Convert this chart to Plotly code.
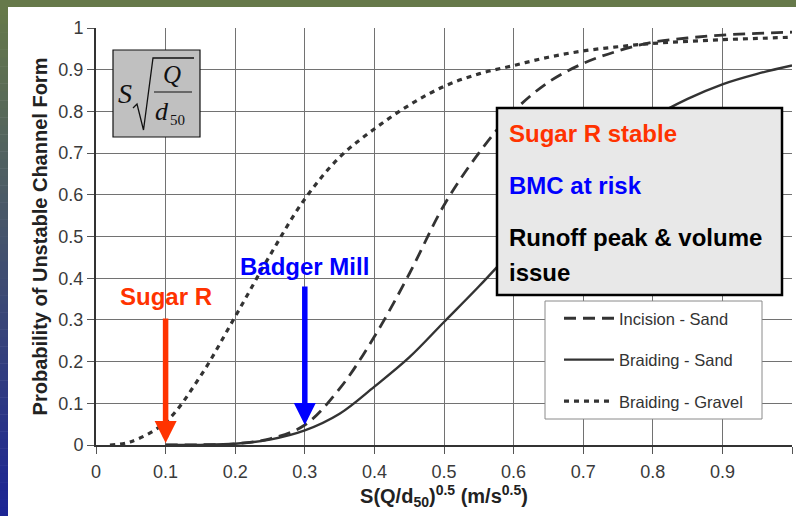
import plotly.graph_objects as go

# ---- data -------------------------------------------------------------
x_gravel = [0.02, 0.05, 0.1, 0.15, 0.2, 0.25, 0.3, 0.35, 0.4, 0.45, 0.5, 0.55,
            0.6, 0.65, 0.7, 0.75, 0.8, 0.85, 0.9, 0.95, 1.0]
p_braiding_gravel = [0.0, 0.008, 0.055, 0.165, 0.308, 0.455, 0.59, 0.69, 0.758,
                     0.815, 0.86, 0.89, 0.91, 0.93, 0.945, 0.955, 0.963, 0.968,
                     0.972, 0.975, 0.978]

x_sand = [0.1, 0.15, 0.2, 0.25, 0.3, 0.35, 0.4, 0.45, 0.5, 0.55, 0.6, 0.65,
          0.7, 0.75, 0.8, 0.85, 0.9, 0.95, 1.0]
p_incision_sand = [0.0, 0.0005, 0.003, 0.015, 0.048, 0.135, 0.26, 0.41, 0.575,
                   0.70, 0.80, 0.87, 0.915, 0.945, 0.966, 0.976, 0.983, 0.987, 0.99]
p_braiding_sand = [0.0, 0.0003, 0.003, 0.013, 0.035, 0.075, 0.14, 0.21, 0.295,
                   0.38, 0.47, 0.56, 0.645, 0.72, 0.785, 0.83, 0.865, 0.89, 0.91]

x_ticks = [0, 0.1, 0.2, 0.3, 0.4, 0.5, 0.6, 0.7, 0.8, 0.9, 1]
y_ticks = [0, 0.1, 0.2, 0.3, 0.4, 0.5, 0.6, 0.7, 0.8, 0.9, 1]
x_tick_labels = ["0", "0.1", "0.2", "0.3", "0.4", "0.5", "0.6", "0.7", "0.8", "0.9", "1"]
y_tick_labels = ["0", "0.1", "0.2", "0.3", "0.4", "0.5", "0.6", "0.7", "0.8", "0.9", "1"]

# streams marked on the chart: arrow tip on the curve, label above the arrow
site_names = ["Sugar R", "Badger Mill"]
site_x = [0.1, 0.3]
site_tip_y = [0.005, 0.048]
site_label_y = [0.355, 0.427]
site_colors = ["#ff3300", "#0000ff"]

note_lines = ["Sugar R stable", "BMC at risk", "Runoff peak & volume", "issue"]
note_colors = ["#ff3300", "#0000ff", "#000000", "#000000"]

# ---- geometry ----------------------------------------------------------
W, H = 796, 516
PL, PT, PW, PH = 96, 28, 696, 417


def fx(xp):
    """pixel column -> paper x"""
    return (xp - PL) / PW


def fy(yp):
    """pixel row -> paper y"""
    return (PT + PH - yp) / PH


SANS = "Liberation Sans, Arial, sans-serif"
SERIF = "Liberation Serif, Times New Roman, serif"
LINE = "#333333"

fig = go.Figure()

fig.add_trace(go.Scatter(
    x=x_sand, y=p_incision_sand, mode="lines", name="Incision - Sand",
    line=dict(color=LINE, width=2.8, dash="12px,7px", shape="spline", smoothing=1.0),
    legendgroup="a"))
fig.add_trace(go.Scatter(
    x=x_sand, y=p_braiding_sand, mode="lines", name="Braiding - Sand",
    line=dict(color=LINE, width=2.4, shape="spline", smoothing=1.0),
    legendgroup="b"))
fig.add_trace(go.Scatter(
    x=x_gravel, y=p_braiding_gravel, mode="lines", name="Braiding - Gravel",
    line=dict(color=LINE, width=3.2, dash="5px,5px", shape="spline", smoothing=1.0),
    legendgroup="c"))

shapes = []

# framing bands: green strip on top, green-to-blue strip on the left
shapes.append(dict(type="rect", xref="paper", yref="paper",
                   x0=fx(0), x1=fx(W), y0=fy(0), y1=fy(7),
                   fillcolor="#66794a", line=dict(width=0), layer="above"))
c_top = (102, 121, 74)
c_bot = (28, 37, 148)
n_strips = 60
for i in range(n_strips):
    t = i / (n_strips - 1)
    r, g, b = (round(c_top[k] + (c_bot[k] - c_top[k]) * t) for k in range(3))
    y0p = 7 + (H - 7) * i / n_strips
    y1p = 7 + (H - 7) * (i + 1) / n_strips
    shapes.append(dict(type="rect", xref="paper", yref="paper",
                       x0=fx(0), x1=fx(8), y0=fy(y1p + 0.5), y1=fy(y0p),
                       fillcolor=f"rgb({r},{g},{b})", line=dict(width=0),
                       layer="above"))

# formula box  S*sqrt(Q/d50)
shapes.append(dict(type="rect", xref="paper", yref="paper",
                   x0=fx(113), x1=fx(200), y0=fy(137), y1=fy(50),
                   fillcolor="#c0c0c0", line=dict(color="#111111", width=1.2),
                   layer="above"))
shapes.append(dict(type="path", xref="paper", yref="paper",
                   path=(f"M {fx(133)},{fy(108)} L {fx(137)},{fy(104)} "
                         f"L {fx(143.5)},{fy(130)} L {fx(153)},{fy(58)} "
                         f"L {fx(194)},{fy(58)}"),
                   line=dict(color="#111111", width=1.3), layer="above"))
shapes.append(dict(type="line", xref="paper", yref="paper",
                   x0=fx(154), x1=fx(192), y0=fy(92), y1=fy(92),
                   line=dict(color="#111111", width=1.2), layer="above"))

# note box
shapes.append(dict(type="rect", xref="paper", yref="paper",
                   x0=fx(497), x1=fx(782), y0=fy(295), y1=fy(108),
                   fillcolor="#e8e8e8", line=dict(color="#000000", width=2.5),
                   layer="above"))

# legend frame
shapes.append(dict(type="rect", xref="paper", yref="paper",
                   x0=fx(545), x1=fx(762), y0=fy(419), y1=fy(301),
                   fillcolor="white", line=dict(color="#8a8a8a", width=1),
                   layer="above"))

annotations = []


def formula_text(x, y, text, size):
    annotations.append(dict(xref="paper", yref="paper", x=fx(x), y=fy(y),
                            xanchor="center", yanchor="middle",
                            text=text, showarrow=False,
                            font=dict(family=SERIF, size=size, color="#111111")))


formula_text(125, 93, "<i>S</i>", 28)
formula_text(172, 74, "<i>Q</i>", 25)
formula_text(162, 112, "<i>d</i>", 26)
formula_text(177, 120, "50", 15)

# site arrows with their labels
tail_gap = [6.5, 4.5]
for name, xs, ty, ly, col, gap in zip(site_names, site_x, site_tip_y,
                                       site_label_y, site_colors, tail_gap):
    annotations.append(dict(x=xs, y=ty, ax=xs, ay=ly, xref="x", yref="y",
                            axref="x", ayref="y", text=name, showarrow=True,
                            arrowhead=2, arrowsize=0.8, arrowwidth=5.5,
                            arrowcolor=col, standoff=0, startstandoff=gap,
                            font=dict(family=SANS, size=24, color=col,
                                      weight="bold")))

note_rows = [133, 185, 237, 272]
for txt, col, row in zip(note_lines, note_colors, note_rows):
    annotations.append(dict(xref="paper", yref="paper", x=fx(507), y=fy(row),
                            xanchor="left", yanchor="middle", text=txt,
                            showarrow=False,
                            font=dict(family=SANS, size=24, color=col,
                                      weight="bold")))

fig.update_layout(
    width=W, height=H,
    margin=dict(l=PL, r=W - PL - PW, t=PT, b=H - PT - PH, pad=0),
    paper_bgcolor="white", plot_bgcolor="white",
    font=dict(family=SANS, color="#333333"),
    shapes=shapes, annotations=annotations,
    showlegend=True,
    legend=dict(x=fx(559), y=fy(301), xanchor="left", yanchor="top",
                bgcolor="rgba(0,0,0,0)", borderwidth=0,
                font=dict(family=SANS, size=16.5, color="#333333"),
                itemwidth=50, tracegroupgap=17, traceorder="grouped"),
    xaxis=dict(range=[0, 1], tickvals=x_ticks, ticktext=x_tick_labels,
               showgrid=True, gridcolor="#727272", gridwidth=1,
               showline=True, linecolor="#333333", linewidth=2,
               ticks="outside", ticklen=7, tickcolor="#555555",
               ticklabelstandoff=2,
               tickfont=dict(size=18, color="#3a3a3a"), zeroline=False,
               title=dict(text="S(Q/d<sub>50</sub>)<sup>0.5</sup> (m/s<sup>0.5</sup>)",
                          font=dict(size=20, color="#222222", weight="bold"),
                          standoff=8)),
    yaxis=dict(range=[0, 1], tickvals=y_ticks, ticktext=y_tick_labels,
               showgrid=True, gridcolor="#727272", gridwidth=1,
               showline=True, linecolor="#333333", linewidth=2,
               ticks="outside", ticklen=7, tickcolor="#555555",
               tickfont=dict(size=18, color="#3a3a3a"), zeroline=False,
               title=dict(text="Probability of Unstable Channel Form",
                          font=dict(size=20, color="#222222", weight="bold"),
                          standoff=5)),
)

fig.write_html("out.html")
